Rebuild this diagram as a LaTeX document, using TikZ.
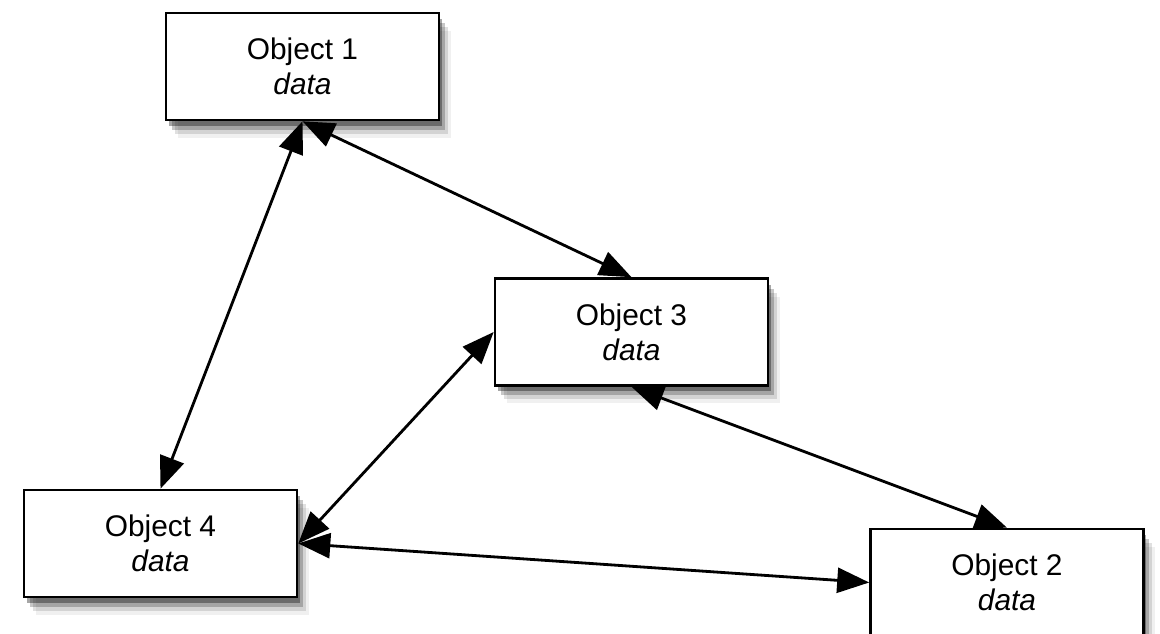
\documentclass[tikz,border=0pt]{standalone}
\usepackage{fontspec}
\setmainfont{Liberation Sans}
\usetikzlibrary{arrows.meta,shadows}

\tikzset{
    objbox/.style={draw, rectangle, line width=1.5pt, fill=white,
        minimum width=5.46cm, minimum height=2.14cm, align=center,
        font=\fontsize{17}{20}\selectfont,
        drop shadow={shadow xshift=0.06cm, shadow yshift=-0.12cm, fill=black, opacity=0.35},
        drop shadow={shadow xshift=0.12cm, shadow yshift=-0.20cm, fill=black, opacity=0.22},
        drop shadow={shadow xshift=0.18cm, shadow yshift=-0.28cm, fill=black, opacity=0.12},
        drop shadow={shadow xshift=0.24cm, shadow yshift=-0.36cm, fill=black, opacity=0.06}},
    link/.style={{Triangle[length=0.64cm, width=0.5cm]}-{Triangle[length=0.64cm, width=0.5cm]}, line width=1.6pt}
}

\begin{document}
\begin{tikzpicture}[x=0.02cm, y=-0.02cm]
    \useasboundingbox (0,0) rectangle (1160,634);

    % Objects
    \node[objbox] (o1) at (302.5, 66.5) {Object 1\\\textit{data}};
    \node[objbox] (o3) at (631.5, 332) {Object 3\\\textit{data}};
    \node[objbox] (o4) at (160.5, 543.5) {Object 4\\\textit{data}};
    \node[objbox] (o2) at (1007, 582.5) {Object 2\\\textit{data}};

    % Links
    \draw[link] (o1.south) -- (o4.north);
    \draw[link] (o1.south) -- (o3.north);
    \draw[link] (o3.west) -- (o4.east);
    \draw[link] (o3.south) -- (o2.north);
    \draw[link] (o4.east) -- (o2.west);
\end{tikzpicture}
\end{document}
